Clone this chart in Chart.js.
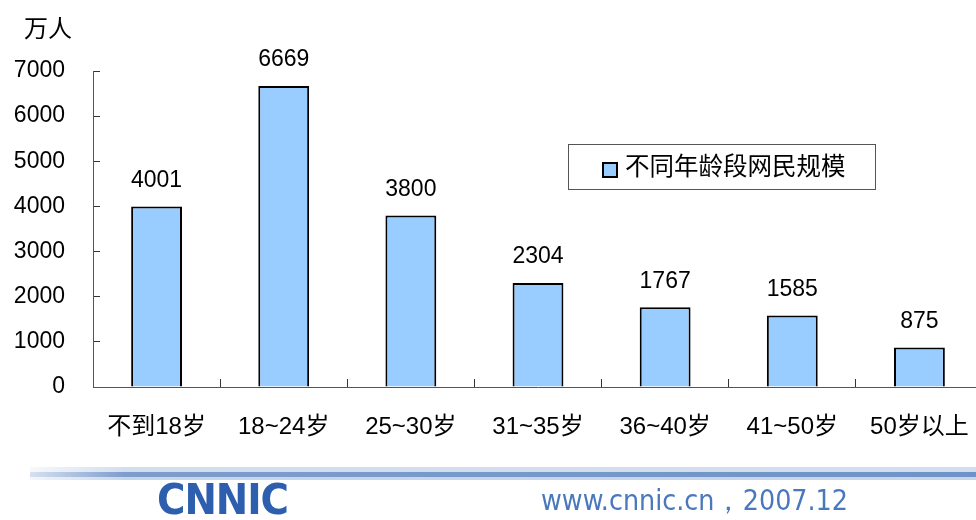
<!DOCTYPE html>
<html>
<head>
<meta charset="utf-8">
<script src="https://cdn.jsdelivr.net/npm/chart.js@4"></script>
<style>
    html, body { margin: 0; padding: 0; background: #fff; overflow: hidden; width: 976px; height: 520px; }
    #wrap { position: absolute; left: 0; top: 0; width: 990px; height: 520px; }
    .linea1 { position: absolute; left: 30px; top: 467px; width: 946px; height: 5px;
        background: linear-gradient(to right, rgba(210,222,240,0.2), #d2def0 10%, #d2def0); }
    .linea2 { position: absolute; left: 30px; top: 472px; width: 946px; height: 5px;
        background: linear-gradient(to right, rgba(120,155,205,0.3), #7d9dcc 10%, #6f93c8); }
    .linea3 { position: absolute; left: 30px; top: 477px; width: 946px; height: 3px;
        background: linear-gradient(to right, rgba(200,214,236,0.2), #c8d6ec 10%, #c8d6ec); }
    #logo { position: absolute; left: 157px; top: 478px; font-family: "DejaVu Sans Condensed", "DejaVu Sans"; font-weight: bold;
        font-size: 42px; color: #2d5fae; letter-spacing: -1px; line-height: 44px; transform-origin: 0 0; white-space: nowrap; }
    #web { position: absolute; left: 541px; top: 484px; font-family: "DejaVu Sans Condensed", "DejaVu Sans"; font-size: 28px;
        color: #4a78bd; line-height: 34px; transform-origin: 0 0; white-space: nowrap; }
</style>
</head>
<body>
<div id="wrap"><canvas id="grafico" width="990" height="520"></canvas></div>
<div class="linea1"></div>
<div class="linea2"></div>
<div class="linea3"></div>
<div id="logo">CNNIC</div>
<div id="web">www.cnnic.cn，2007.12</div>
<script>
const categorias = ['不到18岁', '18~24岁', '25~30岁', '31~35岁', '36~40岁', '41~50岁', '50岁以上'];
const valores = [4001, 6669, 3800, 2304, 1767, 1585, 875];
const nombreSerie = '不同年龄段网民规模';
const unidad = '万人';

const fuente = '"Liberation Sans", Arial, "Noto Sans CJK SC", sans-serif';

// ajustar el ancho del pie de página
function ajustarAncho(id, ancho) {
    const el = document.getElementById(id);
    const w = el.getBoundingClientRect().width;
    el.style.transform = `scaleX(${ancho / w})`;
}
ajustarAncho('logo', 131);
ajustarAncho('web', 307);

// etiquetas encima de las barras, leyenda y unidad
const extras = {
    id: 'extras',
    afterDatasetsDraw(chart) {
        const ctx = chart.ctx;
        ctx.save();
        ctx.fillStyle = '#000';
        ctx.font = '23px ' + fuente;
        ctx.textAlign = 'center';
        ctx.textBaseline = 'middle';
        chart.getDatasetMeta(0).data.forEach((bar, i) => {
            ctx.fillText(valores[i], bar.x, bar.y - 26);
        });

        // unidad
        ctx.textAlign = 'left';
        ctx.font = '24px ' + fuente;
        ctx.fillText(unidad, 24, 30);

        // leyenda
        ctx.strokeStyle = '#555';
        ctx.lineWidth = 1;
        ctx.strokeRect(568.5, 144.5, 307, 45);
        ctx.fillStyle = '#99CCFF';
        ctx.fillRect(603, 163, 14, 14);
        ctx.strokeStyle = '#000';
        ctx.lineWidth = 2;
        ctx.strokeRect(603, 163, 14, 14);
        ctx.fillStyle = '#000';
        ctx.font = '24.5px ' + fuente;
        ctx.fillText(chart.data.datasets[0].label, 625, 168);
        ctx.restore();
    }
};

new Chart(document.getElementById('grafico'), {
    type: 'bar',
    data: {
        labels: categorias,
        datasets: [{
            label: nombreSerie,
            data: valores,
            backgroundColor: '#99CCFF',
            borderColor: '#000',
            borderWidth: 2,
            categoryPercentage: 1,
            barPercentage: 0.4
        }]
    },
    options: {
        responsive: false,
        animation: false,
        layout: { padding: { left: 0, top: 71, right: 7, bottom: 0 } },
        plugins: { legend: { display: false }, tooltip: { enabled: false } },
        scales: {
            x: {
                grid: { drawOnChartArea: false, tickLength: -8, color: '#333', offset: true },
                border: { color: '#555', width: 1 },
                ticks: { color: '#000', font: { size: 24, family: fuente }, padding: 34, maxRotation: 0, autoSkip: false },
                afterFit: (s) => {
                    s.height = 133;
                    s.paddingLeft = 0;
                    s.paddingRight = 0;
                }
            },
            y: {
                min: 0,
                max: 7000,
                grid: { drawOnChartArea: false, tickLength: -7, color: '#333' },
                border: { color: '#555', width: 1 },
                ticks: { stepSize: 1000, color: '#000', font: { size: 23, family: fuente }, padding: 35,
                    callback: (v) => String(v) },
                afterFit: (s) => {
                    s.width = 93;
                    s.paddingTop = 0;
                    s.paddingBottom = 0;
                }
            }
        }
    },
    plugins: [extras]
});
</script>
</body>
</html>
